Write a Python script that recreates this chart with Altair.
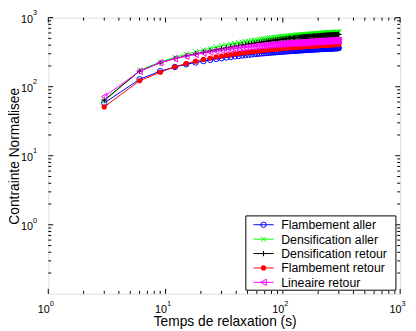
import altair as alt
import pandas as pd

# ---------------- data ----------------
time_s = [
    3, 6, 9, 12, 15, 18, 21, 24, 27, 30,
    33, 36, 39, 42, 45, 48, 51, 54, 57, 60,
    63, 66, 69, 72, 75, 78, 81, 84, 87, 90,
    93, 96, 99, 102, 105, 108, 111, 114, 117, 120,
    123, 126, 129, 132, 135, 138, 141, 144, 147, 150,
    153, 156, 159, 162, 165, 168, 171, 174, 177, 180,
    183, 186, 189, 192, 195, 198, 201, 204, 207, 210,
    213, 216, 219, 222, 225, 228, 231, 234, 237, 240,
    243, 246, 249, 252, 255, 258, 261, 264, 267, 270,
    273, 276, 279, 282, 285, 288, 291, 294, 297, 300,
]

flambement_aller = [
    58, 128, 168, 193, 211, 224, 235, 244, 252, 259,
    265, 270, 275, 279, 283, 286, 290, 293, 296, 298,
    301, 303, 305, 307, 309, 311, 313, 314, 316, 318,
    319, 320, 322, 323, 324, 326, 327, 328, 329, 330,
    331, 332, 333, 334, 335, 336, 337, 337, 338, 339,
    340, 340, 341, 342, 343, 343, 344, 345, 345, 346,
    346, 347, 348, 348, 349, 349, 350, 350, 351, 351,
    352, 352, 353, 353, 354, 354, 355, 355, 356, 356,
    356, 357, 357, 358, 358, 358, 359, 359, 359, 360,
    360, 361, 361, 361, 362, 362, 362, 363, 363, 363,
]

densification_aller = [
    62, 172, 228, 266, 296, 320, 341, 360, 376, 390,
    403, 414, 424, 434, 442, 450, 457, 464, 471, 477,
    483, 488, 494, 499, 503, 508, 512, 516, 519, 523,
    527, 530, 533, 535, 538, 540, 543, 545, 547, 549,
    552, 553, 555, 557, 559, 561, 563, 564, 566, 568,
    569, 571, 572, 574, 575, 576, 578, 579, 580, 582,
    583, 584, 585, 586, 587, 589, 590, 591, 592, 593,
    594, 595, 596, 597, 598, 599, 599, 600, 601, 602,
    603, 604, 605, 605, 606, 607, 608, 609, 609, 610,
    611, 611, 612, 613, 613, 614, 615, 616, 616, 617,
]

densification_retour = [
    64, 168, 222, 256, 280, 299, 315, 329, 342, 354,
    365, 375, 384, 393, 401, 408, 415, 421, 427, 433,
    438, 443, 448, 453, 458, 462, 466, 470, 474, 478,
    481, 484, 487, 490, 493, 496, 499, 501, 504, 506,
    509, 511, 513, 515, 517, 519, 521, 523, 525, 526,
    528, 529, 530, 532, 533, 534, 535, 537, 538, 539,
    540, 541, 542, 543, 544, 545, 546, 547, 548, 549,
    550, 551, 552, 552, 553, 554, 555, 556, 556, 557,
    558, 559, 559, 560, 561, 562, 562, 563, 564, 564,
    565, 566, 566, 567, 567, 568, 569, 569, 570, 570,
]

flambement_retour = [
    51, 122, 162, 194, 217, 234, 248, 260, 270, 278,
    286, 292, 298, 304, 309, 313, 318, 321, 325, 328,
    332, 335, 337, 340, 342, 345, 347, 349, 351, 353,
    355, 357, 359, 360, 362, 363, 365, 366, 368, 369,
    370, 372, 373, 374, 375, 376, 377, 378, 379, 380,
    381, 382, 383, 384, 385, 386, 387, 388, 388, 389,
    390, 391, 391, 392, 393, 394, 394, 395, 396, 396,
    397, 398, 398, 399, 399, 400, 400, 401, 402, 402,
    403, 403, 404, 404, 405, 405, 406, 406, 407, 407,
    408, 408, 408, 409, 409, 410, 410, 411, 411, 411,
]

lineaire_retour = [
    72, 167, 223, 254, 276, 293, 307, 318, 328, 337,
    344, 351, 356, 362, 367, 371, 375, 379, 382, 386,
    389, 392, 394, 397, 400, 402, 404, 406, 408, 410,
    412, 414, 415, 417, 419, 420, 421, 423, 424, 426,
    427, 428, 429, 430, 432, 433, 434, 435, 436, 437,
    438, 439, 440, 440, 441, 442, 443, 444, 445, 445,
    446, 447, 448, 448, 449, 450, 450, 451, 452, 452,
    453, 453, 454, 455, 455, 456, 456, 457, 457, 458,
    458, 459, 460, 460, 460, 461, 461, 462, 462, 463,
    463, 464, 464, 465, 465, 465, 466, 466, 467, 467,
]

series_names = ["Flambement aller", "Densification aller", "Densification retour",
                "Flambement retour", "Lineaire retour"]
series_values = [flambement_aller, densification_aller, densification_retour,
                 flambement_retour, lineaire_retour]

x_major = [1, 10, 100, 1000]
x_exp = ["0", "1", "2", "3"]
y_major = [1, 10, 100, 1000]
y_exp = ["0", "1", "2", "3"]
x_minor = [2, 3, 4, 5, 6, 7, 8, 9, 20, 30, 40, 50, 60, 70, 80, 90,
           200, 300, 400, 500, 600, 700, 800, 900]
y_minor = [0.2, 0.3, 0.4, 0.5, 0.6, 0.7, 0.8, 0.9, 2, 3, 4, 5, 6, 7, 8, 9,
           20, 30, 40, 50, 60, 70, 80, 90, 200, 300, 400, 500, 600, 700, 800, 900]

x_title = "Temps de relaxation (s)"
y_title = "Contrainte Normalisee"

# ---------------- styling ----------------
W, H = 358, 281
FONT = "Liberation Sans"
colors = ["#0000ff", "#00ff00", "#000000", "#ff0000", "#ff00ff"]
marker_styles = [
    dict(shape="circle", filled=False, size=30, strokeWidth=1),
    dict(shape="M-1,-1L1,1M-1,1L1,-1", filled=False, size=26, strokeWidth=1),
    dict(shape="M-1,0L1,0M0,-1L0,1", filled=False, size=30, strokeWidth=1),
    dict(shape="circle", filled=True, size=28, strokeWidth=0),
    dict(shape="triangle-left", filled=False, size=42, strokeWidth=1),
]

xs = alt.Scale(type="log", domain=[1, 1000], nice=False)
ys = alt.Scale(type="log", domain=[0.1, 1000], nice=False)

layers = []

# series: line then markers, in plotting order
for name, vals, col, ms in zip(series_names, series_values, colors, marker_styles):
    df = pd.DataFrame({"t": time_s, "v": vals})
    base = alt.Chart(df).encode(
        x=alt.X("t:Q", scale=xs, axis=None),
        y=alt.Y("v:Q", scale=ys, axis=None),
    )
    layers.append(base.mark_line(color=col, strokeWidth=1))
    layers.append(base.mark_point(color=col, opacity=1, **ms))

# ticks (inside, on all four sides)
def xticks(vals, length):
    d = pd.DataFrame({"v": vals})
    b = alt.Chart(d).mark_rule(color="black", strokeWidth=1)
    return [
        b.encode(x=alt.X("v:Q", scale=xs, axis=None), y=alt.value(H), y2=alt.value(H - length)),
        b.encode(x=alt.X("v:Q", scale=xs, axis=None), y=alt.value(0), y2=alt.value(length)),
    ]

def yticks(vals, length):
    d = pd.DataFrame({"v": vals})
    b = alt.Chart(d).mark_rule(color="black", strokeWidth=1)
    return [
        b.encode(y=alt.Y("v:Q", scale=ys, axis=None), x=alt.value(0), x2=alt.value(length)),
        b.encode(y=alt.Y("v:Q", scale=ys, axis=None), x=alt.value(W), x2=alt.value(W - length)),
    ]

layers += xticks(x_major, 5) + xticks(x_minor, 3)
layers += yticks(y_major, 5) + yticks(y_minor, 3)

# tick labels 10^n
xl = pd.DataFrame({"v": x_major, "e": x_exp})
layers.append(alt.Chart(xl).mark_text(text="10", align="right", baseline="alphabetic",
                                      font=FONT, fontSize=11, dx=1.5, color="black")
              .encode(x=alt.X("v:Q", scale=xs, axis=None), y=alt.value(H + 20)))
layers.append(alt.Chart(xl).mark_text(align="left", baseline="alphabetic",
                                      font=FONT, fontSize=7.5, dx=1.5, color="black")
              .encode(x=alt.X("v:Q", scale=xs, axis=None), y=alt.value(H + 12), text="e:N"))

yl = pd.DataFrame({"v": y_major, "e": y_exp})
layers.append(alt.Chart(yl).mark_text(text="10", align="right", baseline="alphabetic",
                                      font=FONT, fontSize=11, dy=5.4, color="black")
              .encode(y=alt.Y("v:Q", scale=ys, axis=None), x=alt.value(-15.5)))
layers.append(alt.Chart(yl).mark_text(align="left", baseline="alphabetic",
                                      font=FONT, fontSize=7.5, dy=-2.3, color="black")
              .encode(y=alt.Y("v:Q", scale=ys, axis=None), x=alt.value(-15.5), text="e:N"))

# axis titles
layers.append(alt.Chart(pd.DataFrame({"s": [x_title]})).mark_text(
    align="center", baseline="alphabetic", font=FONT, fontSize=14, color="black")
    .encode(x=alt.value(180), y=alt.value(H + 33), text="s:N"))
layers.append(alt.Chart(pd.DataFrame({"s": [y_title]})).mark_text(
    align="center", baseline="alphabetic", font=FONT, fontSize=14, angle=270, color="black")
    .encode(x=alt.value(-30), y=alt.value(141), text="s:N"))

# legend box
LX0, LX1, LY0, LY1 = 201, 353.7, 201.7, 277.3
layers.append(alt.Chart(pd.DataFrame({"a": [0]})).mark_rect(
    fill="white", stroke="black", strokeWidth=1)
    .encode(x=alt.value(LX0), x2=alt.value(LX1), y=alt.value(LY0), y2=alt.value(LY1)))

for i, (name, col, ms) in enumerate(zip(series_names, colors, marker_styles)):
    yy = 210.7 + 14.65 * i
    d = pd.DataFrame({"s": [name]})
    layers.append(alt.Chart(d).mark_rule(color=col, strokeWidth=1)
                  .encode(x=alt.value(208.7), x2=alt.value(229.3), y=alt.value(yy)))
    layers.append(alt.Chart(d).mark_point(color=col, opacity=1, **ms)
                  .encode(x=alt.value(219), y=alt.value(yy)))
    layers.append(alt.Chart(d).mark_text(align="left", baseline="middle", font=FONT,
                                         fontSize=12.5, color="black")
                  .encode(x=alt.value(237), y=alt.value(yy + 0.5), text="s:N"))

chart = alt.layer(*layers).properties(
    width=W, height=H,
    autosize=alt.AutoSizeParams(type="none"),
    padding={"left": 41, "top": 7, "right": 8, "bottom": 36},
).configure_view(stroke="black", strokeWidth=2).configure(background="white")

chart.save("out.html", embed_options={"renderer": "svg", "actions": False})
